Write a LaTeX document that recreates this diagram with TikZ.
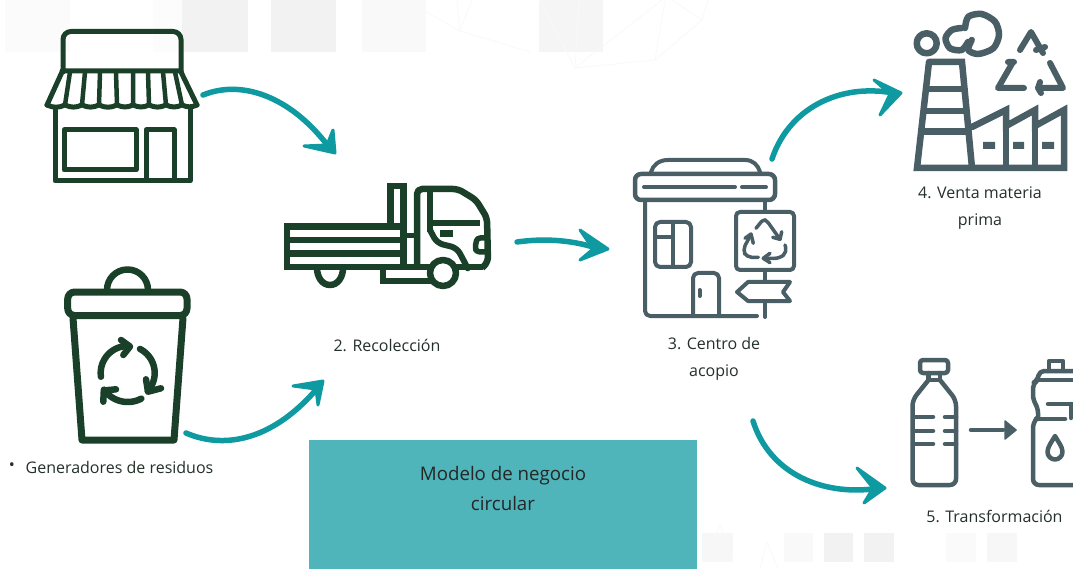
\documentclass[tikz,border=0pt]{standalone}
\usepackage{fontspec}
\setmainfont{Open Sans}
\definecolor{dkgreen}{HTML}{1A4029}
\definecolor{slate}{HTML}{4A5E66}
\definecolor{tealarrow}{HTML}{0E9AA0}
\definecolor{tealbox}{HTML}{4FB5BA}
\definecolor{labeltxt}{HTML}{24302A}
\tikzset{
  green/.style={draw=dkgreen,line width=#1,line join=round,line cap=round},
  green/.default=5pt,
  grey/.style={draw=slate,line width=#1,line join=round,line cap=round},
  grey/.default=4pt,
  flow/.style={draw=tealarrow,line width=5.5pt,line cap=round},
  flowtip/.style={fill=tealarrow,draw=tealarrow,line width=3pt,line join=round},
  lbl/.style={font=\fontsize{16}{27}\selectfont,text=labeltxt,align=center,inner sep=0pt},
  sq/.style={draw=none,fill=#1},
  web/.style={draw=black!2.5,line width=0.8pt}
}
\begin{document}
\begin{tikzpicture}[x=1pt,y=-1pt]
\useasboundingbox (0,0) rectangle (1073,569);
\fill[white] (0,0) rectangle (1073,569);
% background squares
\fill[sq=black!1.5] (5,0) rectangle (70,52);
\fill[sq=black!1] (153,0) rectangle (182,52);
\fill[sq=black!5] (182,0) rectangle (248,52);
\fill[sq=black!5] (271,0) rectangle (336,52);
\fill[sq=black!2.5] (362,0) rectangle (426,52);
\fill[sq=black!4] (539,0) rectangle (603,52);
\fill[sq=black!3] (702,533) rectangle (733,562);
\fill[sq=black!2.5] (784,533) rectangle (813,562);
\fill[sq=black!5] (824,533) rectangle (853,562);
\fill[sq=black!5] (864,533) rectangle (894,562);
\fill[sq=black!2] (946,533) rectangle (976,562);
\fill[sq=black!3] (987,533) rectangle (1017,562);
% faint web
\draw[web] (405,0) -- (460,31) -- (457,0) (460,31) -- (472,0) (460,31) -- (530,52);
\draw[web] (540,0) -- (575,68) -- (579,0) (575,68) -- (662,0) (575,68) -- (655,60) -- (665,0) (655,60) -- (702,20) -- (672,0) (702,20) -- (708,0);
\draw[web] (720,525) -- (733,562) (720,525) -- (705,562) (767,542) -- (760,569) (767,542) -- (778,569);
% teal box
\fill[tealbox] (309,440) rectangle (697,569);
\node[lbl,font=\fontsize{18.7}{30}\selectfont,text=black!85] (title) at (503,488) {Modelo de negocio\\circular};

% store
\draw[green=5pt,rounded corners=8pt] (63,72) -- (63,31.5) -- (181,31.5) -- (181,72);
\draw[green=5pt] (62,71) -- (181,71) (47,105) -- (62,72) (197,105) -- (181,72);
\draw[green=4.5pt] (65,105) -- (70,72) (82,105) -- (85,72) (99,105) -- (100,72) (117,105) -- (116,72) (133,105) -- (133,72) (149,105) -- (148,72) (166,105) -- (163,72) (182,105) -- (175,72);
\draw[green=5pt] (47,105) to[bend right=25] (65,105) to[bend right=25] (82,105) to[bend right=25] (99,105) to[bend right=25] (117,105) to[bend right=25] (133,105) to[bend right=25] (149,105) to[bend right=25] (166,105) to[bend right=25] (182,105) to[bend right=25] (197,105);
\draw[green=5pt] (55,108) -- (55,181) -- (190,181) -- (190,108);
\draw[green=5pt] (64,130) rectangle (136,170);
\draw[green=5pt] (146,180) -- (146,130) -- (174,130) -- (174,180);

% truck
\draw[green=6.5pt,line cap=butt,line join=miter] (405,226.5) -- (287,226.5) -- (287,267) -- (483,267);
\draw[green=6.5pt,line cap=butt] (287,240) -- (403,240) (287,253.5) -- (403,253.5);
\draw[green=6.5pt,line cap=butt,line join=miter] (390.5,224) -- (390.5,186) -- (403.5,186) -- (403.5,267);
\draw[green=5pt,line cap=butt] (403,236) -- (417,236);
\draw[green=6.5pt,line cap=butt,rounded corners=5pt] (417,267) -- (417,189) -- (458,189) -- (476,200) -- (487,218) -- (488,262) -- (482,268);
\draw[green=6pt,line cap=butt] (430,189) -- (430,232);
\draw[green=6pt,line cap=butt] (430,223) -- (480,223);
\draw[green=6pt,line cap=butt,rounded corners=6pt] (430,230) -- (437,243) -- (457,248) -- (465,263) -- (467,267);
\fill[dkgreen] (440,230) rectangle (453,237);
\draw[green=5.5pt,line cap=butt,rounded corners=3pt] (488,238) -- (477,238) -- (475,248) -- (477,252) -- (488,252);
\fill[white] (443,273) circle[radius=13];
\draw[green=6.5pt,line cap=butt] (443,273) circle[radius=13];
\draw[green=6.5pt,line cap=butt] (317,268) to[out=-90,in=180] (330,285) to[out=0,in=-90] (343,268);
\draw[green=6.5pt,line cap=butt,line join=miter] (383,268) -- (383,281) -- (432,281);

% recycling bin
\draw[green=6.5pt,line cap=butt] (107,290) to[out=90,in=180] (127.5,269.5) to[out=0,in=90] (148,290);
\draw[green=7pt,rounded corners=7pt] (67.7,315.5) -- (67.7,292) -- (187,292) -- (187,315.5) -- cycle;
\draw[green=7pt] (73,318) -- (82,440) -- (174,440) -- (183,318);
\draw[green=6.5pt] plot[domain=188:92,samples=25] ({127.7+27*cos(\x)},{373-27*sin(\x)});
\draw[green=6.5pt] (121,340) -- (130,346.5) -- (123.3,355);
\draw[green=6.5pt] plot[domain=63:-42,samples=25] ({127.7+27*cos(\x)},{373-27*sin(\x)});
\draw[green=6.5pt] (146,379.3) -- (148,391.7) -- (161,388.3);
\draw[green=6.5pt] plot[domain=-62:-145,samples=25] ({127.7+29*cos(\x)},{373-29*sin(\x)});
\draw[green=6.5pt] (116,389.3) -- (103.8,390.5) -- (103.3,401.7);

% recycling centre
\draw[grey=4pt] (651,172) .. controls (653,165) and (659,160) .. (668,160) -- (745,160) .. controls (753,160) and (758,165) .. (760,172);
\draw[grey=4.5pt,rounded corners=6pt] (635,174) rectangle (775,200);
\draw[grey=4pt] (644,187) -- (735,187) (742,187) -- (766,187);
\draw[grey=4pt,rounded corners=5pt] (645,200) -- (645,316) -- (757,316);
\draw[grey=4pt] (765,200) -- (765,212) (765,270) -- (765,282) (765,302) -- (765,317);
\draw[grey=4pt,rounded corners=4pt] (736,212) rectangle (794,270);
\draw[grey=4pt] (737,292) -- (748,282) -- (790,282) -- (783,292) -- (790,301) -- (748,301) -- cycle;
\draw[grey=4pt,rounded corners=5pt] (655,222) rectangle (691,267);
\draw[grey=4pt] (673,222) -- (673,267) (655,237) -- (673,237);
\draw[grey=4pt,rounded corners=5pt] (693,316) -- (693,273) -- (719,273) -- (719,316);
\draw[grey=4pt] (699.5,290) -- (699.5,296);
\draw[grey=3.5pt,rounded corners=3pt] (756,228.3) -- (763.3,219.3) -- (767,221) -- (780,239.3);
\draw[grey=3.5pt] (772.7,237.3) -- (780,239.3) -- (781.7,231.7);
\draw[grey=3.5pt,rounded corners=5pt] (785,245) -- (787,252) -- (780,258.3) -- (763.3,258.3);
\draw[grey=3.5pt] (770,253.3) -- (763.3,258.3) -- (770,262.7);
\draw[grey=3.5pt,rounded corners=5pt] (758.3,257.3) -- (746.7,257.3) -- (742.7,250) -- (750.7,235);
\draw[grey=3.5pt] (745,238.3) -- (751,234) -- (753.3,243.3);

% factory
\draw[grey=6.5pt] (926.7,43.3) circle[radius=10];
\draw[grey=6.5pt] plot[smooth] coordinates {(961.7,28) (951.7,30) (945.5,38.3) (950,48.3) (961.7,50) (968,42)};
\draw[grey=6.5pt] plot[smooth] coordinates {(965,28) (968.3,16.7) (981.7,14) (995,21.7) (999,35) (993.3,48.3) (978.3,54) (968.3,50) (971.7,40)};
\draw[grey=6.5pt,line join=miter] (929,62) -- (962,62) -- (972,168) (929,62) -- (917,168) -- (1064,168) -- (1064,110) -- (1035,126) -- (1035,110) -- (1006,126) -- (1006,110) -- (972,127);
\draw[grey=5.5pt,line cap=butt] (1006,110) -- (1006,168) (1035,110) -- (1035,168);
\draw[grey=6pt,line cap=butt] (927,89) -- (965,89) (925,111) -- (967,111);
\draw[grey=7pt,line cap=butt] (923,132) -- (969,132);
\fill[slate] (983,142) rectangle (995,149) (1013,142) rectangle (1024,149) (1042,142) rectangle (1054,149);
\draw[grey=6pt] (1020,50) -- (1031,32) -- (1043,53) (1036,50) -- (1045,47);
\draw[grey=6pt] (1013,62) -- (998,88) -- (1024,88) (1008,62) -- (1014,62);
\draw[grey=6pt] (1050,63) -- (1063,88) -- (1038,88) (1040,82) -- (1038,88) -- (1041,93);

% bottles
\draw[grey=4.5pt,rounded corners=3pt] (920,360) rectangle (948,373);
\draw[grey=4.5pt] (928.5,373) -- (928.5,380) -- (940,380) -- (940,373);
\draw[grey=4.5pt,rounded corners=6pt] (928.5,380) -- (912.5,400) -- (912.5,485) -- (956,485) -- (956,400) -- (940,380);
\draw[grey=4.5pt] (913,417) -- (933,417) (945,417) -- (956,417) (913,431) -- (933,431) (945,431) -- (956,431) (913,444) -- (933,444) (945,444) -- (956,444);
\draw[grey=4.5pt] (971,430) -- (1003,430);
\fill[slate,draw=slate,line width=1.5pt,line join=round] (1005,421) -- (1016,430) -- (1005,439) -- cycle;
\draw[grey=4.5pt] (1049,370) -- (1049,361) -- (1063,361) -- (1063,370);
\draw[grey=4.5pt,rounded corners=5pt] (1073,371) -- (1039,371) -- (1038,380) -- (1033,383) -- (1033,400) -- (1038,408) -- (1038,419);
\draw[grey=4.5pt] (1037,380) -- (1073,380);
\draw[grey=4.5pt] (1048,404) -- (1073,404);
\draw[grey=4.5pt] (1071,404) -- (1071,418);
\draw[grey=4.5pt] (1036,419) -- (1065,419);
\draw[grey=4.5pt,rounded corners=6pt] (1036,419) -- (1033,422) -- (1033,485) -- (1073,485);
\draw[grey=4.5pt] (1055,436) .. controls (1051,443) and (1047.5,447) .. (1047.5,452) .. controls (1047.5,456) and (1051,459.5) .. (1055,459.5) .. controls (1059,459.5) and (1062.5,456) .. (1062.5,452) .. controls (1062.5,447) and (1059,443) .. (1055,436) -- cycle;

% connector end points
\coordinate (a1s) at (203,95); \coordinate (a1e) at (331,150);
\coordinate (a2s) at (186,433); \coordinate (a2e) at (320,385);
\coordinate (a3s) at (517,242); \coordinate (a3e) at (602,250);
\coordinate (a4s) at (772,159); \coordinate (a4e) at (898,94);
\coordinate (a5s) at (753,421); \coordinate (a5e) at (880,488);
% connectors
\draw[flow] (a1s) .. controls (245,78) and (295,100) .. (a1e);
\fill[flowtip] (333,130) -- (335,153) -- (304,146) -- (327,145) -- cycle;
\draw[flow] (a2s) .. controls (225,450) and (275,440) .. (a2e);
\fill[flowtip] (293,386) -- (323,381) -- (318,405) -- (316,389) -- cycle;
\draw[flow] (a3s) .. controls (545,238) and (575,240) .. (a3e);
\fill[flowtip] (580,230) -- (608,249) -- (580,260) -- (593,249) -- cycle;
\draw[flow] (a4s) .. controls (790,105) and (845,82) .. (a4e);
\fill[flowtip] (874,80) -- (901,93) -- (880,115) -- (890,94) -- cycle;
\draw[flow] (a5s) .. controls (770,475) and (825,497) .. (a5e);
\fill[flowtip] (857,468) -- (885,488) -- (864,503) -- (873,488) -- cycle;

% labels
\node[lbl] (l0) at (12,467) {•};
\node[lbl] (l1) at (119.5,467) {Generadores de residuos};
\node[lbl] (l2) at (387,345) {2. Recolección};
\node[lbl] (l3) at (714,358.5) {3. Centro de\\acopio};
\node[lbl] (l4) at (980,208) {4. Venta materia\\prima};
\node[lbl] (l5) at (994.5,516) {5. Transformación};
\end{tikzpicture}
\end{document}
